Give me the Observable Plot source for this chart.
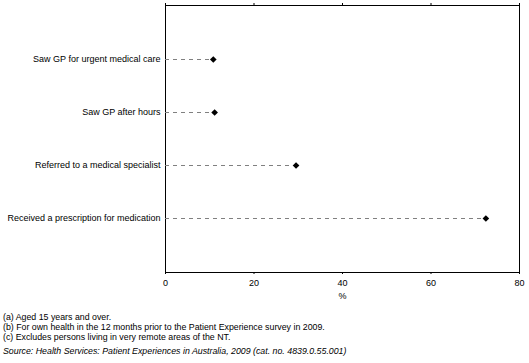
<!DOCTYPE html>
<html>
<head>
<meta charset="utf-8">
<script src="https://cdn.jsdelivr.net/npm/d3@7"></script>
<script src="https://cdn.jsdelivr.net/npm/@observablehq/plot@0.6"></script>
<style>
  body { margin: 0; background: #fff; font-family: "Liberation Sans", Arial, sans-serif; }
  #chart svg { display: block; }
  .notes { font-size: 8.8px; color: #000; margin-left: 3px; line-height: 10px; margin-top: 12px; }
  .src { font-style: italic; margin-top: 4px; }
</style>
</head>
<body>
<div id="chart"></div>
<div class="notes">
  <div>(a) Aged 15 years and over.</div>
  <div>(b) For own health in the 12 months prior to the Patient Experience survey in 2009.</div>
  <div>(c) Excludes persons living in very remote areas of the NT.</div>
  <div class="src">Source: Health Services: Patient Experiences in Australia, 2009 (cat. no. 4839.0.55.001)</div>
</div>
<script>
const categories = [
  "Saw GP for urgent medical care",
  "Saw GP after hours",
  "Referred to a medical specialist",
  "Received a prescription for medication"
];
const values = [10.8, 11.1, 29.5, 72.4];
const xTicks = [0, 20, 40, 60, 80];

const data = categories.map((c, i) => ({category: c, value: values[i]}));

const chart = Plot.plot({
  width: 529,
  height: 300,
  marginTop: 5,
  marginBottom: 28,
  marginLeft: 165,
  marginRight: 10,
  style: {fontFamily: "'Liberation Sans', Arial, sans-serif", fontSize: "9px", color: "#000", background: "#fff"},
  x: {domain: [0, 80]},
  y: {type: "point", domain: categories, padding: 1},
  marks: [
    Plot.frame({stroke: "#000", strokeWidth: 1}),
    Plot.axisX({anchor: "top", ticks: xTicks, tickSize: 3, tickFormat: () => "", label: null, strokeWidth: 1}),
    Plot.axisX({anchor: "bottom", ticks: xTicks, tickSize: 2, tickPadding: 5, label: "%", labelAnchor: "center", labelArrow: "none", labelOffset: 26, fontSize: 9}),
    Plot.axisY({tickSize: 0, tickPadding: 5, label: null, fontSize: 9}),
    Plot.ruleY(data, {y: "category", x1: 0, x2: "value", stroke: "#808080", strokeDasharray: "4,4"}),
    Plot.dot(data, {y: "category", x: "value", symbol: "diamond2", r: 3, fill: "#000", stroke: "none"})
  ]
});
document.getElementById("chart").append(chart);
</script>
</body>
</html>
